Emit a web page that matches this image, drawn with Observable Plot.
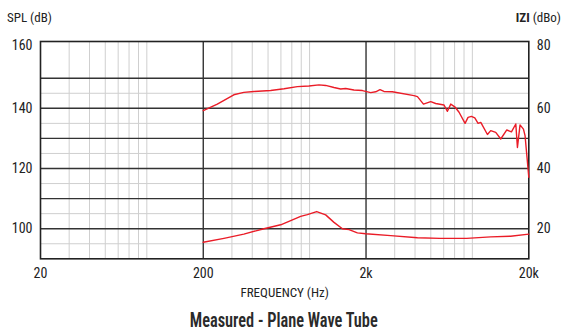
<!DOCTYPE html>
<html><head><meta charset="utf-8">
<script src="https://cdn.jsdelivr.net/npm/d3@7"></script>
<script src="https://cdn.jsdelivr.net/npm/@observablehq/plot@0.6"></script>
<style>
body{margin:0;background:#fff;width:562px;height:331px;overflow:hidden;font-family:Roboto,"Open Sans",sans-serif;font-stretch:75%;color:#222}
.head{position:relative;height:28px}
.head span{position:absolute;top:10px;font-size:13px;line-height:16px;white-space:nowrap}
.head .l{left:7px}
.head .r{right:1px}
.head .r b{font-weight:700}
#chart{height:275px}
#chart svg{font-family:Roboto,"Open Sans",sans-serif;font-stretch:75%}
.title{box-sizing:border-box;padding:0 34px 0 40px;text-align:center;font-size:21px;font-weight:600;line-height:22px;margin-top:6px;color:#2a2a2a;white-space:nowrap}
.title span{display:inline-block;transform-origin:50% 50%}
</style></head>
<body>
<div class="head"><span class="l">SPL (dB)</span><span class="r"><b>IZI</b> (dBo)</span></div>
<div id="chart"></div>
<div class="title"><span>Measured - Plane Wave Tube</span></div>
<script>
// SPL curve (left axis, dB)
const splFreq = [200,244,308,355,409,519,627,757,891,1028,1130,1271,1397,1499,1686,1901,2137,2293,2437,2577,2900,3944,4139,4507,4994,5357,6029,6325,6630,7017,7457,8118,8468,8884,9316,9760,10140,11140,11670,12530,13450,14650,15650,16640,17030,17670,18540,18970,20000];
const splDb   = [139.2,141.4,144.5,145.3,145.6,145.9,146.5,147.2,147.4,147.8,147.6,146.9,146.4,146.6,146.1,145.9,145.2,145.5,146.2,145.6,145.5,144.2,143.9,141.4,142.2,141.6,141.1,139.0,141.4,140.5,138.7,135.0,137.0,137.3,136.8,135.0,135.3,131.3,132.6,132.0,129.8,132.8,132.2,134.8,127.0,134.5,133.1,130.9,117.1];
// Impedance curve (right axis, dBo)
const zFreq = [200,268,355,472,598,689,793,872,995,1130,1271,1432,1573,1770,1990,2836,4139,5700,8300,11670,15450,20000];
const zDbo  = [15.5,16.8,18.2,20.0,21.3,22.7,24.1,24.7,25.7,24.6,22.1,20.0,19.7,18.6,18.3,17.7,17.0,16.8,16.8,17.3,17.5,18.2];
// Axes / grid
const xTicks = [20,200,2000,20000];
const xTickLabels = ["20","200","2k","20k"];
const leftTicks = [100,120,140,160];
const rightTicks = [20,40,60,80];
const rightOffset = 80; // dBo = dB - 80
const darkGridX = [200,2000];
const lightGridX = [30,40,50,60,70,80,90,300,400,500,600,700,800,900,3000,4000,5000,6000,7000,8000,9000];
const darkGridY = [100,110,120,130,140,150];
const lightGridY = [95,105,115,125,135,145];

const spl = splFreq.map((f,i)=>({f, v: splDb[i]}));
const imp = zFreq.map((f,i)=>({f, v: zDbo[i] + rightOffset}));
const red = "#ea1c27";
const tickFont = {tickSize:0, tickPadding:8, fontSize:14};

const chart = Plot.plot({
  width: 562, height: 275,
  marginLeft: 40, marginRight: 33.7, marginTop: 13, marginBottom: 44.7,
  style: {fontSize: "14px", color: "#222", background: "#fff"},
  x: {type: "log", domain: [20, 20000]},
  y: {domain: [90, 162.2]},
  marks: [
    Plot.ruleX(lightGridX, {stroke: "#cfcfcf", strokeWidth: 1}),
    Plot.ruleY(lightGridY, {stroke: "#cfcfcf", strokeWidth: 1}),
    Plot.ruleX(darkGridX, {stroke: "#333", strokeWidth: 1.4}),
    Plot.ruleY(darkGridY, {stroke: "#333", strokeWidth: 1.4}),
    Plot.frame({stroke: "#222", strokeWidth: 1.6}),
    Plot.line(spl, {x: "f", y: "v", stroke: red, strokeWidth: 1.4}),
    Plot.line(imp, {x: "f", y: "v", stroke: red, strokeWidth: 1.4}),
    Plot.axisX({anchor: "bottom", ticks: xTicks, tickFormat: (d) => xTickLabels[xTicks.indexOf(d)], tickSize: 0, tickPadding: 9, fontSize: 14, label: null}),
    Plot.axisX({anchor: "bottom", ticks: [], label: "FREQUENCY (Hz)", labelAnchor: "center", labelOffset: 38.5, labelArrow: "none", fontSize: 13}),
    Plot.axisY({anchor: "left", ticks: leftTicks.slice(0,3), label: null, ...tickFont}),
    Plot.axisY({anchor: "left", ticks: leftTicks.slice(3), label: null, dy: -3, ...tickFont}),
    Plot.axisY({anchor: "right", ticks: rightTicks.slice(0,3).map(d => d + rightOffset), tickFormat: d => d - rightOffset, label: null, ...tickFont}),
    Plot.axisY({anchor: "right", ticks: rightTicks.slice(3).map(d => d + rightOffset), tickFormat: d => d - rightOffset, label: null, dy: -3, ...tickFont})
  ]
});
document.getElementById("chart").appendChild(chart);
const t = document.querySelector(".title span");
const w = t.getBoundingClientRect().width;
t.style.transform = `scaleX(${188 / w})`;
</script>
</body></html>
